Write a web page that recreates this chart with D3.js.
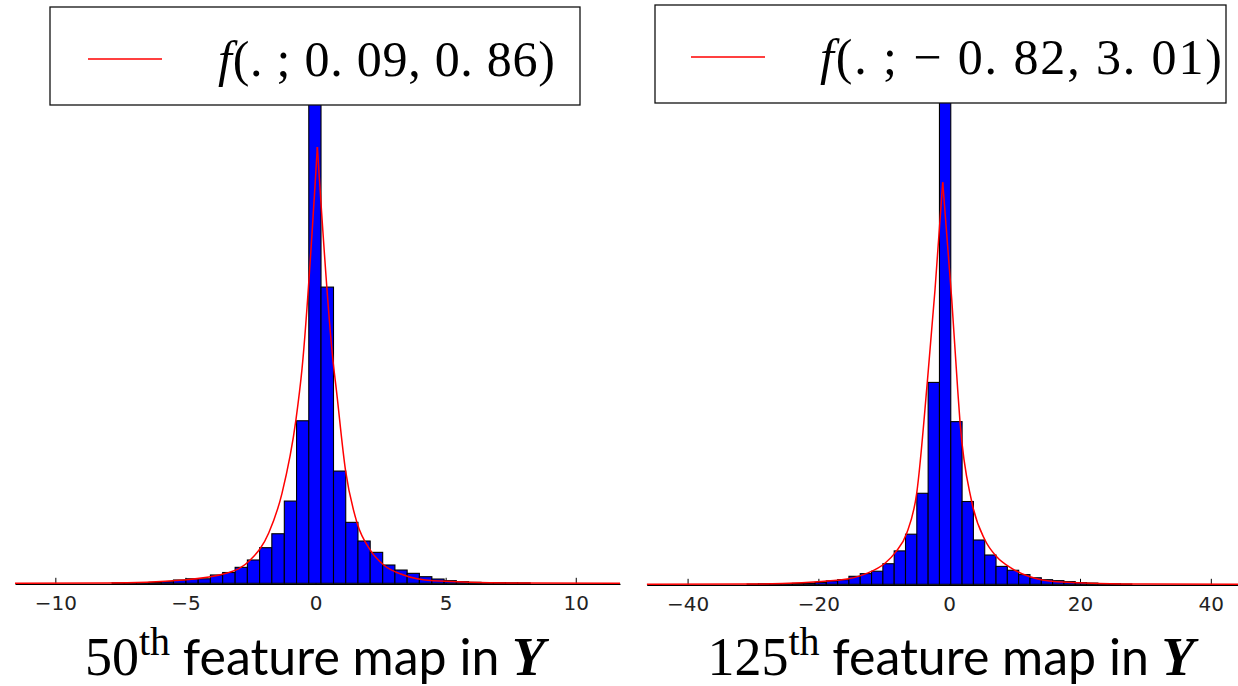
<!DOCTYPE html>
<html>
<head>
<meta charset="utf-8">
<script src="https://cdn.jsdelivr.net/npm/d3@7"></script>
<style>
body { margin: 0; background: #fff; }
svg { display: block; }
text { white-space: pre; }
</style>
</head>
<body>
<div id="chart"></div>
<script>
// 50th feature map: histogram (density) + fitted curve
const binEdges50 = [-7.82, -7.35, -6.88, -6.40, -5.93, -5.46, -4.98, -4.51, -4.04, -3.57, -3.09, -2.62,
    -2.15, -1.68, -1.20, -0.73, -0.26, 0.21, 0.69, 1.16, 1.63, 2.10, 2.58, 3.05, 3.52, 3.99, 4.47,
    4.94, 5.41, 5.88, 6.36, 6.83, 7.30, 7.77, 8.25]
const density50 = [0.0006, 0.0008, 0.0010, 0.0013,
    0.0021, 0.0044, 0.0060, 0.0060, 0.0111, 0.0144, 0.0213, 0.0311, 0.0475, 0.0661, 0.1097, 0.2168,
    0.7200, 0.3951, 0.1497, 0.0813, 0.0564, 0.0413, 0.0244, 0.0177, 0.0133, 0.0088, 0.0057, 0.0035, 0.0021,
    0.0013, 0.0010, 0.0008, 0.0006, 0.0005]
const fitX50 = [-11.55, -8.0, -5.08, -3.40, -2.51, -1.80, -1.29, -0.75, -0.52, 0.07,
    0.67, 0.80, 1.15, 1.60, 2.11, 2.62, 3.38, 4.53, 8.0, 11.7]
const fitY50 = [0.0000, 0.0003, 0.0044, 0.0137, 0.031, 0.067, 0.120, 0.219, 0.286, 0.582,
    0.297, 0.258, 0.151, 0.080, 0.044, 0.0244, 0.011, 0.0035, 0.0003, 0.0000]
const xTicks50 = [-10, -5, 0, 5, 10]
const fitParams50 = [0.09, 0.86]
const caption50 = ['50', 'th']

// 125th feature map
const binEdges125 = [-30.90, -29.17, -27.44, -25.71, -23.98, -22.25, -20.52, -18.79, -17.06, -15.33,
    -13.60, -11.87, -10.14, -8.41, -6.68, -4.95, -3.22, -1.49, 0.24, 1.97, 3.70, 5.43, 7.16, 8.89,
    10.62, 12.35, 14.08, 15.81, 17.54, 19.27, 21.00, 22.73, 24.46, 26.19, 27.92]
const density125 = [0.0001, 0.0002, 0.0002, 0.0003, 0.0004, 0.0005,
    0.0008, 0.0014, 0.0019, 0.0033, 0.0044, 0.0054, 0.0085, 0.0138, 0.0207, 0.0376, 0.0834, 0.2300,
    0.0672, 0.0342, 0.0183, 0.0121, 0.0074, 0.0058, 0.0040, 0.0027, 0.0019, 0.0015, 0.0011, 0.0007,
    0.0005, 0.0003, 0.0002, 0.0001]
const fitX125 = [-46.25, -30.0, -16.70, -12.61, -9.82, -8.13, -6.50, -4.97, -3.35, -2.17, -0.99,
    0.38, 1.30, 1.65, 3.44, 5.47, 7.26, 9.56, 12.35, 16.44, 30.0, 46.25]
const fitY125 = [0.0000, 0.0001, 0.0018, 0.0045, 0.0087, 0.0135, 0.0211, 0.0376, 0.0834, 0.1217, 0.1661,
    0.1180, 0.0804, 0.0672, 0.0342, 0.0183, 0.0114, 0.0066, 0.0031, 0.0011, 0.0001, 0.0000]
const xTicks125 = [-40, -20, 0, 20, 40]
const fitParams125 = [-0.82, 3.01]
const caption125 = ['125', 'th']

let svgWidth = 1238
let svgHeight = 686

let svg = d3.select('#chart').append('svg')
    .attr('width', svgWidth)
    .attr('height', svgHeight)

svg.append('rect')
    .attr('width', svgWidth)
    .attr('height', svgHeight)
    .attr('fill', '#fff')

function fmtParam(v) {
    let s = d3.format('.2f')(Math.abs(v)).replace('.', '. ')
    return (v < 0 ? '\u2212 ' : '') + s
}

function drawPanel(p) {
    let x = d3.scaleLinear()
        .domain(p.xDomain)
        .range([p.left, p.right])
    let y = d3.scaleLinear()
        .domain(p.yDomain)
        .range([p.bottom, p.top])

    let clipId = 'clip_' + p.id
    svg.append('clipPath')
        .attr('id', clipId)
        .append('rect')
        .attr('x', p.left)
        .attr('y', 0)
        .attr('width', p.right - p.left)
        .attr('height', p.bottom + 1)

    // x axis: ticks pointing up, classic matplotlib look
    let axis_x = d3.axisBottom()
        .scale(x)
        .tickValues(p.ticks)
        .tickSizeInner(-6)
        .tickSizeOuter(0)
        .tickPadding(12)
        .tickFormat(d3.format('d'))
    let ax = svg.append('g')
        .attr('transform', `translate(0, ${p.bottom + 0.5})`)
        .call(axis_x)
    ax.select('.domain').attr('stroke', '#000').attr('stroke-width', 1.2)
    ax.selectAll('.tick line').attr('stroke', '#000')
    ax.selectAll('.tick text')
        .attr('fill', '#222')
        .attr('font-family', 'DejaVu Sans')
        .attr('font-size', 20)

    let g = svg.append('g').attr('clip-path', `url(#${clipId})`)

    let bins = p.density.map((d, i) => ({ x0: p.edges[i], x1: p.edges[i + 1], v: d }))
    g.selectAll('rect.bar')
        .data(bins)
        .enter()
        .append('rect')
        .attr('class', 'bar')
        .attr('x', d => x(d.x0))
        .attr('y', d => y(d.v))
        .attr('width', d => x(d.x1) - x(d.x0))
        .attr('height', d => y(0) - y(d.v))
        .attr('fill', '#0000ff')
        .attr('stroke', '#000')
        .attr('stroke-width', 1.1)

    // fitted curve, drawn as two branches so the peak stays sharp
    let pts = p.fitX.map((v, i) => [v, p.fitY[i]])
    let im = d3.maxIndex(p.fitY)
    let line = d3.line()
        .x(d => x(d[0]))
        .y(d => y(d[1]))
        .curve(d3.curveMonotoneX)
    ;[pts.slice(0, im + 1), pts.slice(im)].forEach(seg => {
        g.append('path')
            .attr('d', line(seg))
            .attr('fill', 'none')
            .attr('stroke', '#ff0000')
            .attr('stroke-width', 1.5)
    })

    // legend box on top (hides the top of the tall bar)
    let lg = svg.append('g')
    lg.append('rect')
        .attr('x', p.legend.x)
        .attr('y', p.legend.y)
        .attr('width', p.legend.w)
        .attr('height', p.legend.h)
        .attr('fill', '#fff')
        .attr('stroke', '#111')
        .attr('stroke-width', 1.3)
    lg.append('line')
        .attr('x1', p.legend.lineX)
        .attr('x2', p.legend.lineX + 74)
        .attr('y1', p.legend.y + 52)
        .attr('y2', p.legend.y + 52)
        .attr('stroke', '#ff0000')
        .attr('stroke-width', 1.5)
    let lt = lg.append('text')
        .attr('x', p.legend.textX)
        .attr('y', p.legend.y + 69)
        .attr('font-family', 'Liberation Serif')
        .attr('font-size', 50)
        .attr('fill', '#000')
        .attr('textLength', p.legend.textW)
        .attr('lengthAdjust', 'spacing')
    lt.append('tspan').attr('font-style', 'italic').text('f')
    lt.append('tspan').text('(. ; ' + fmtParam(p.params[0]) + ', ' + fmtParam(p.params[1]) + ')')

    // caption under the axis
    let cap = svg.append('text')
        .attr('x', p.captionX)
        .attr('y', 675)
        .attr('text-anchor', 'middle')
        .attr('fill', '#000')
    cap.append('tspan')
        .attr('font-family', 'Liberation Serif')
        .attr('font-size', 54)
        .text(p.caption[0])
    cap.append('tspan')
        .attr('font-family', 'Liberation Serif')
        .attr('font-size', 40)
        .attr('dy', -20)
        .text(p.caption[1])
    cap.append('tspan')
        .attr('font-family', 'Lato')
        .attr('font-size', 50)
        .attr('dy', 20)
        .text(' feature map in ')
    cap.append('tspan')
        .attr('font-family', 'Liberation Serif')
        .attr('font-size', 54)
        .attr('font-weight', 'bold')
        .attr('font-style', 'italic')
        .text('Y')
}

drawPanel({
    id: 'p50',
    edges: binEdges50, density: density50, fitX: fitX50, fitY: fitY50,
    ticks: xTicks50, params: fitParams50, caption: caption50,
    xDomain: [-11.55, 11.7], yDomain: [0, 0.638],
    left: 15, right: 620, top: 105, bottom: 583.3,
    legend: { x: 50, y: 7, w: 530, h: 98, lineX: 88, textX: 218, textW: 337 },
    captionX: 315
})

drawPanel({
    id: 'p125',
    edges: binEdges125, density: density125, fitX: fitX125, fitY: fitY125,
    ticks: xTicks125, params: fitParams125, caption: caption125,
    xDomain: [-46.25, 46.25], yDomain: [0, 0.198],
    left: 646.7, right: 1251.7, top: 105, bottom: 584.3,
    legend: { x: 655, y: 5, w: 571, h: 98, lineX: 691, textX: 820, textW: 402 },
    captionX: 951
})
</script>
</body>
</html>
